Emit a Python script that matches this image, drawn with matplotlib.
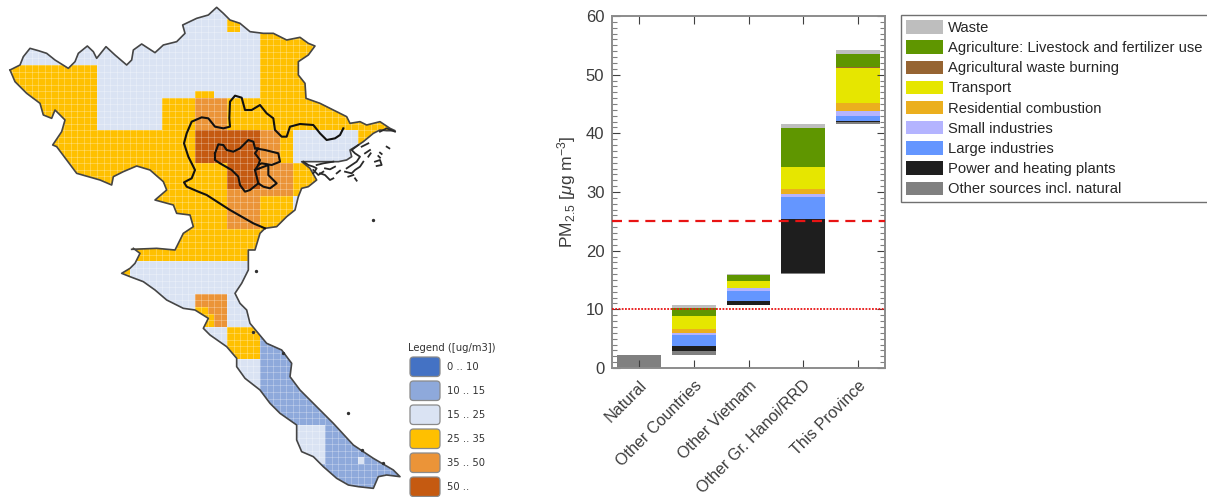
import numpy as np
import matplotlib
matplotlib.use('Agg')
import matplotlib.pyplot as plt
from matplotlib.colors import ListedColormap, BoundaryNorm
from matplotlib.patches import Polygon, FancyBboxPatch, Patch
from matplotlib.ticker import MultipleLocator
from matplotlib.transforms import ScaledTranslation

plt.rcParams['font.family'] = ['Liberation Sans', 'DejaVu Sans']
plt.rcParams['mathtext.fontset'] = 'custom'
plt.rcParams['mathtext.rm'] = 'Liberation Sans'
plt.rcParams['mathtext.it'] = 'Liberation Sans:italic'

# ---- bar chart data
categories = ['Natural', 'Other Countries', 'Other Vietnam', 'Other Gr. Hanoi/RRD', 'This Province']
sources = ['Other sources incl. natural', 'Power and heating plants', 'Large industries',
           'Small industries', 'Residential combustion', 'Transport',
           'Agricultural waste burning', 'Agriculture: Livestock and fertilizer use', 'Waste']
other_sources = [2.2, 0.7, 0.05, 0.2, 0.4]
power_heating = [0, 0.85, 0.65, 9.2, 0.05]
large_industries = [0, 1.82, 1.75, 3.8, 0.85]
small_industries = [0, 0.33, 0.45, 0.55, 0.85]
residential = [0, 0.7, 0.05, 0.75, 1.4]
transport = [0, 2.26, 1.08, 3.8, 6.05]
ag_burning = [0, 0.05, 0.12, 0.02, 0.05]
agriculture = [0, 1.35, 0.9, 6.6, 2.25]
waste = [0, 0.5, 0.15, 0.7, 0.8]
source_colors = ['#808080', '#1E1E1E', '#6496FF', '#B4B4FF', '#EBAF1E', '#E6E600', '#966432', '#5F9600', '#BEBEBE']
who_annual = 10
vn_annual = 25

# ---- map data: outlines (units: 1/3 pixel)
coast_north = [(30,210),(60,195),(70,170),(90,145),(115,152),(140,160),(165,180),(205,205),(225,185),(235,160),
 (262,138),(280,155),(290,175),(318,140),(345,165),(380,195),(395,180),(400,150),(425,132),(445,145),(465,158),
 (490,135),(530,125),(555,100),(548,75),(590,55),(625,45),(650,22),(670,40),(690,60),(720,70),(750,95),(790,100),
 (820,100),(860,120),(900,112),(925,130),(945,138),(925,165),(895,185),(895,225),(915,250),(918,295),(960,310),
 (990,325),(1040,350),(1050,370),(1080,365),(1100,375),(1140,365),(1170,385),(1185,392),(1160,392),(1140,390),
 (1120,400),(1090,425),(1075,435),(1050,450),(1055,470),(1040,480),(1015,485),(980,485),(940,485),(905,485),
 (930,505),(950,540),(925,560),(905,565),(895,590),(885,630),(860,650),(830,680),
 (795,685),(780,700),(765,750)]
coast_south = [(415,0),(415,60),(395,100),(375,130),(390,160),(410,180),(420,220),(445,250),(470,280),(515,300),
 (545,340),(540,380),(570,420),(620,470),(670,520),(730,585),(790,625),(850,660),(870,680),(830,675),(805,680),
 (790,715),(745,710),(715,705),(680,685),(640,650),(610,620),(575,605),(560,570),(560,525),(510,490),(480,460),
 (450,420),(405,385),(380,350),(380,325),(350,290),(300,255),(280,235),(295,205),(255,180),(220,175),(170,150),
 (135,120),(100,95),(60,80),(35,70),(60,55),(75,40),(90,10),(70,-5)]
coast_west = [(395,748),(470,745),(525,750),(550,700),(580,680),(570,645),(530,640),(520,615),(465,600),(500,570),
 (490,545),(450,510),(410,498),(370,515),(340,530),(335,555),(300,540),(230,520),(200,480),(170,440),(158,435),
 (185,395),(195,360),(165,330),(155,355),(130,345),(120,310),(80,280),(45,245),(30,210)]
region_rrd = [(1030,385),(1020,405),(1005,415),(980,420),(960,400),(940,375),(900,372),(870,380),(860,410),(845,410),
 (825,390),(820,355),(800,340),(780,315),(755,330),(735,330),(725,293),(705,287),(690,305),(688,355),(690,380),
 (670,385),(645,380),(625,355),(605,352),(575,365),(560,400),(552,430),(565,470),(585,510),(575,535),(552,547),
 (560,560),(595,575),(620,585),(690,630),(760,670),(795,685)]
prov_hanoi = [(645,460),(655,433),(670,435),(680,450),(700,455),(720,445),(745,420),(760,425),(765,445),(775,445),
 (765,460),(780,480),(775,495),(765,510),(775,550),(750,570),(735,575),(720,555),(715,530),(695,510),(660,490),
 (645,480),(645,460)]
prov_bacninh = [(765,445),(795,450),(835,460),(840,485),(815,495),(785,490),(775,495)]
prov_hungyen = [(765,510),(805,495),(805,525),(830,550),(810,565),(790,560),(775,550)]
# Quang Ninh islands (units: 1/3 pixel, offset to the bay)
islands = [[(70,155),(85,165),(100,170),(110,175),(100,190)], [(110,165),(130,160),(160,155)],
 [(120,190),(135,195),(150,210),(160,205)], [(135,175),(150,178),(165,170)], [(100,180),(115,195),(130,185)],
 [(200,175),(215,165),(230,155),(240,140),(225,130),(215,120),(235,105)],
 [(195,185),(215,190),(225,180),(240,170),(250,155)], [(255,130),(270,120)], [(225,205),(230,212)],
 [(285,155),(300,150),(305,165),(290,168)], [(300,128),(305,132)], [(320,110),(328,115)],
 [(245,110),(265,100)], [(300,65),(320,55),(345,65)], [(170,190),(180,182)], [(205,200),(220,195)],
 [(265,140),(272,130)], [(295,138),(300,143)]]
sea_dots_north = [(1120,660)]
sea_dots_south = [(715,490),(438,62),(430,245),(520,310),(755,600),(820,640)]

# concentration classes, block zones of the model grid: (col0, col1, row0, row1, class)
class_labels = ['0 .. 10', '10 .. 15', '15 .. 25', '25 .. 35', '35 .. 50', '50 ..']
class_colors = ['#4472C4', '#8EA9DB', '#DAE3F3', '#FFC000', '#EB9438', '#C55A11']
grid_shape = (76, 62)
zones = [(0,15,0,10,2),(15,40,0,15,2),(15,25,15,20,2),(30,33,14,15,3),(35,37,3,5,3),(45,55,20,25,2),(45,46,30,35,2),
 (30,35,15,20,4),(30,40,20,25,5),(40,43,20,25,4),(35,45,25,30,4),(35,40,25,29,5),(35,40,30,35,4),
 (0,62,40,76,2),(30,35,45,50,4),(30,32,47,50,3),(32,33,48,50,3),(35,40,50,55,3),(19,20,41,43,3),
 (40,62,51,76,1),(0,40,60,76,1),(45,50,65,71,2),(55,56,70,71,2)]

# ---- figure
fig = plt.figure(figsize=(12.07, 4.97), dpi=100)
W, H = 1207, 497
m = fig.add_axes([0, 0, 1, 1])
m.set_xlim(0, W); m.set_ylim(H, 0); m.axis('off')

north = np.array(coast_north) / 3
south = np.array(coast_south) / 3 + [110, 250]
west = np.array(coast_west) / 3
outline = np.vstack([north, south, west])

cells = np.full(grid_shape, 3)
for c0, c1, r0, r1, k in zones:
    cells[r0:r1, c0:c1] = k
xe = -0.8 + 6.52 * np.arange(grid_shape[1] + 1)
ye = -0.4 + 6.54 * np.arange(grid_shape[0] + 1)
cmap = ListedColormap(class_colors)
norm = BoundaryNorm(np.arange(-0.5, 6.5), 6)
mesh = m.pcolormesh(xe, ye, cells, cmap=cmap, norm=norm, antialiased=False, rasterized=True)
clip = Polygon(outline, closed=True, transform=m.transData, fc='none', ec='none')
m.add_patch(clip)
mesh.set_clip_path(clip)
v = m.vlines(xe, 0, 497, color='white', lw=0.6, alpha=0.3)
h = m.hlines(ye, 0, 400, color='white', lw=0.6, alpha=0.3)
v.set_clip_path(clip); h.set_clip_path(clip)

m.plot(*np.vstack([north, south]).T, color='#454545', lw=1.2)
m.plot(*west.T, color='#454545', lw=1.2)
for isl in islands:
    m.plot(*(np.array(isl) / 3 + [280, 110]).T, color='#2A2A2A', lw=1.3)
m.plot(*(np.array(sea_dots_north) / 3).T, ls='', marker='o', ms=1.4, color='#303030')
m.plot(*(np.array(sea_dots_south) / 3 + [110, 250]).T, ls='', marker='o', ms=1.4, color='#303030')
for line in (region_rrd, prov_hanoi, prov_bacninh, prov_hungyen):
    m.plot(*(np.array(line) / 3).T, color='#111111', lw=1.5)

# map legend
m.text(408, 348, 'Legend ([ug/m3])', family='DejaVu Sans', fontsize=7.2, color='#333333', va='center')
for i, (lab, col) in enumerate(zip(class_labels, class_colors)):
    y = 357 + i * 24
    m.add_patch(FancyBboxPatch((410, y), 30, 19.5, boxstyle='round,pad=0,rounding_size=3.5',
                               fc=col, ec='#8A8A8A', lw=0.9, clip_on=False))
    m.text(447, y + 10.5, lab, family='DejaVu Sans', fontsize=7.2, color='#333333', va='center')

# ---- stacked waterfall
ax = fig.add_axes([612 / W, 1 - 368 / H, (885 - 612) / W, (368 - 16) / H])
series = [other_sources, power_heating, large_industries, small_industries, residential,
          transport, ag_burning, agriculture, waste]
stack = np.array(series, dtype=float)
starts = np.concatenate([[0], np.cumsum(stack.sum(axis=0))[:-1]])
x = np.arange(len(categories))
bottom = starts.copy()
for vals, col in zip(stack, source_colors):
    ax.bar(x, vals, 0.8, bottom=bottom, color=col, lw=0)
    bottom += vals
ax.axhline(vn_annual, color='#E81414', lw=1.6, ls=(0, (4.5, 3)), zorder=5)
ax.axhline(who_annual, color='#E81414', lw=1.3, ls=(0, (1, 0.8)), zorder=5)
ax.set_xlim(-0.5, 4.5); ax.set_ylim(0, 60)
ax.set_xticks(x); ax.set_xticklabels(categories, rotation=45, ha='right', rotation_mode='anchor')
shift = ScaledTranslation(5 / 100, 0, fig.dpi_scale_trans)
for lab in ax.get_xticklabels():
    lab.set_transform(lab.get_transform() + shift)
    lab.set_fontsize(11.6)
ax.yaxis.set_major_locator(MultipleLocator(10)); ax.yaxis.set_minor_locator(MultipleLocator(1))
ax.tick_params(axis='both', which='major', direction='in', top=True, right=True, length=6, width=0.8,
               color='#404040', labelcolor='#3C3C3C')
ax.tick_params(axis='y', labelsize=12, pad=5.5)
ax.tick_params(axis='x', pad=7)
for lab in ax.get_xticklabels():
    lab.set_fontsize(11.6)
ax.tick_params(axis='y', which='minor', direction='in', left=True, right=True, length=3.5, width=0.8, color='#808080')
for s in ax.spines.values():
    s.set_color('#8C8C8C'); s.set_linewidth(1.4)
ax.set_ylabel(r'PM$_{2.5}$ [$\mathit{\mu}$g m$^{-3}$]', fontsize=12.6, color='#3C3C3C', labelpad=5.5)

handles = [Patch(fc=c, ec='none', label=s) for s, c in zip(sources, source_colors)][::-1]
fig.legend(handles=handles, loc='upper left', bbox_to_anchor=(901 / W, 1 - 15 / H), borderaxespad=0,
           fontsize=10.65, frameon=True, fancybox=False, edgecolor='#707070', framealpha=1,
           handlelength=2.5, handleheight=1.0, labelspacing=0.37, handletextpad=0.34, borderpad=0.36, labelcolor='#262626')

fig.savefig('out.png', dpi=100)
